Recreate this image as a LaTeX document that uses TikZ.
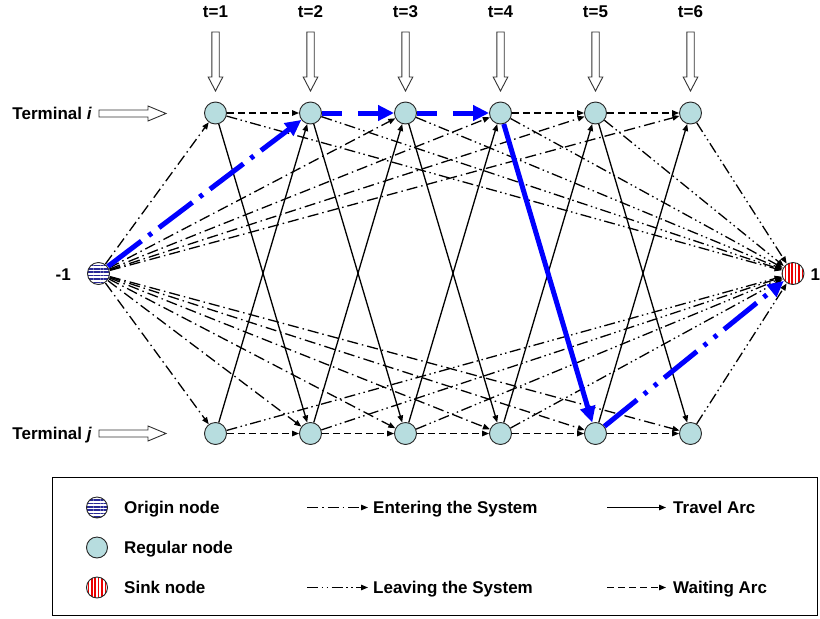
\documentclass[tikz,border=0pt]{standalone}
\usepackage{fontspec}
\setmainfont{Liberation Sans}
\usetikzlibrary{positioning,arrows.meta,patterns.meta}
\definecolor{nodefill}{RGB}{183,221,223}
\definecolor{originblue}{RGB}{40,40,150}
\definecolor{sinkred}{RGB}{235,0,0}
\definecolor{pathblue}{RGB}{0,0,255}

\begin{document}
\begin{tikzpicture}[x=1pt, y=-1pt,
    every node/.style={font=\fontsize{17}{20}\selectfont\bfseries, inner sep=0pt},
    regular/.style={circle, draw=black!85, line width=0.9pt, fill=nodefill, minimum size=22pt},
    origin/.style={circle, draw=black!85, line width=0.9pt, minimum size=22pt, preaction={fill=white},
                   pattern={Lines[angle=0, distance=3.4pt, line width=1.6pt]}, pattern color=originblue},
    sink/.style={circle, draw=black!85, line width=0.9pt, minimum size=22pt, preaction={fill=white},
                 pattern={Lines[angle=90, distance=3.4pt, line width=1.6pt]}, pattern color=sinkred},
    tip/.style={-{Triangle[length=7pt, width=5.5pt]}},
    enter/.style={tip, line width=1.3pt, dash pattern=on 11pt off 4pt on 1.5pt off 4pt},
    leave/.style={tip, line width=1.3pt, dash pattern=on 11pt off 3.5pt on 1.5pt off 3.5pt on 1.5pt off 3.5pt},
    travel/.style={tip, line width=1.3pt},
    wait/.style={tip, line width=1.3pt, dash pattern=on 7pt off 4pt},
    bluepath/.style={draw=pathblue, line width=5pt, -{Triangle[length=16pt, width=15pt]}},
    hollow/.style={draw=black!80, line width=0.9pt, fill=white}
  ]
  \useasboundingbox (0,0) rectangle (820,619);

  % time periods and the two terminal rows
  \foreach \i in {1,...,6} {
    \pgfmathsetmacro\xx{215.5+95*(\i-1)}
    \node (lab\i) at (\xx,12) {t=\i};
    \draw[hollow] (\xx,32) ++(-3.7,0) -- ++(7.4,0) -- ++(0,45) -- ++(3.6,0)
                  -- ++(-7.3,14) -- ++(-7.3,-14) -- ++(3.6,0) -- cycle;
    \node[regular] (t\i) at (\xx,113) {};
    \node[regular] (b\i) at (\xx,433.5) {};
  }
  \node[origin] (o) at (98.5,273.5) {};
  \node[sink]   (s) at (793,273.5) {};
  \node[anchor=base east] (omark) at (71,280) {-1};
  \node[anchor=base west] (smark) at (810.5,280) {1};

  \node[anchor=base east] (ti) at (92,119) {Terminal \textit{i}};
  \node[anchor=base east] (tj) at (92,439.5) {Terminal \textit{j}};
  \foreach \yy in {113.5,433.5}
    \draw[hollow] (99,\yy) ++(0,-3.5) -- ++(49,0) -- ++(0,-4) -- ++(18,7.5)
                  -- ++(-18,7.5) -- ++(0,-4) -- ++(-49,0) -- cycle;

  % arcs
  \foreach \n in {t1,t3,t4,t5,t6,b1,b2,b3,b4,b5,b6}
    \draw[enter] (o) -- (\n);
  \foreach \n in {t1,t2,t3,t4,t5,t6,b1,b2,b3,b4,b6}
    \draw[leave] (\n) -- (s);
  \foreach \a/\b in {1/2,2/3,3/4,4/5,5/6}
    \draw[travel] (b\a) -- (t\b);
  \foreach \a/\b in {1/2,2/3,3/4,5/6}
    \draw[travel] (t\a) -- (b\b);
  \foreach \a/\b in {1/2,2/3,3/4,4/5,5/6}
    \draw[wait] (b\a) -- (b\b);
  \foreach \a/\b in {1/2,4/5,5/6}
    \draw[wait] (t\a) -- (t\b);

  % highlighted path
  \draw[bluepath, dash pattern=on 42pt off 9pt on 4pt off 9pt] (o) -- (t2);
  \draw[bluepath, dash pattern=on 20pt off 16pt] (t2) -- (t3);
  \draw[bluepath, dash pattern=on 20pt off 16pt] (t3) -- (t4);
  \draw[bluepath] (t4) -- (b5);
  \draw[bluepath, dash pattern=on 42pt off 9pt on 4pt off 9pt on 4pt off 9pt] (b5) -- (s);

  % legend
  \draw[line width=1pt] (52,477) rectangle (817,615);
  \node[origin, minimum size=21pt]  (lo) at (97,507.5) {};
  \node[regular, minimum size=21pt] (lr) at (97,547.5) {};
  \node[sink, minimum size=21pt]    (ls) at (97,587.5) {};
  \node[anchor=base west] (lotxt) at (124,513) {Origin node};
  \node[anchor=base west] (lrtxt) at (124,553) {Regular node};
  \node[anchor=base west] (lstxt) at (124,593) {Sink node};

  \coordinate (e1) at (307,507.5); \coordinate (e2) at (368,507.5);
  \coordinate (l1) at (307,587.5); \coordinate (l2) at (368,587.5);
  \coordinate (v1) at (607,507.5); \coordinate (v2) at (666,507.5);
  \coordinate (w1) at (607,587.5); \coordinate (w2) at (666,587.5);
  \draw[enter]  (e1) -- (e2);
  \draw[leave]  (l1) -- (l2);
  \draw[travel] (v1) -- (v2);
  \draw[wait]   (w1) -- (w2);
  \node[anchor=base west] (etxt) at (373,513) {Entering the System};
  \node[anchor=base west] (ltxt) at (373,593) {Leaving the System};
  \node[anchor=base west] (vtxt) at (673,513) {Travel Arc};
  \node[anchor=base west] (wtxt) at (673,593) {Waiting Arc};
\end{tikzpicture}
\end{document}
